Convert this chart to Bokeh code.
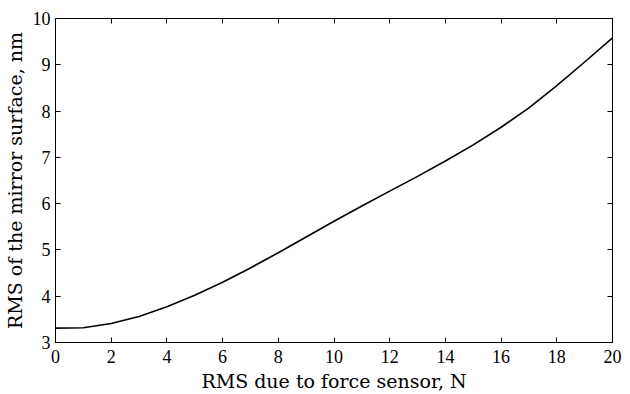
from bokeh.plotting import figure
from bokeh.models import LinearAxis, Range1d, FixedTicker
from bokeh.embed import file_html
from bokeh.resources import INLINE

force_rms = [0, 1, 2, 3, 4, 5, 6, 7, 8, 9, 10, 11, 12, 13, 14, 15, 16, 17, 18, 19, 20]
mirror_rms = [3.31, 3.32, 3.41, 3.56, 3.77, 4.02, 4.30, 4.61, 4.94, 5.28, 5.62,
              5.95, 6.27, 6.59, 6.92, 7.27, 7.65, 8.07, 8.55, 9.06, 9.58]
x_ticks = [0, 2, 4, 6, 8, 10, 12, 14, 16, 18, 20]
y_ticks = [3, 4, 5, 6, 7, 8, 9, 10]

p = figure(width=630, height=394, output_backend="svg", toolbar_location=None,
           x_range=Range1d(0, 20), y_range=Range1d(3, 10),
           min_border_left=55, min_border_right=18, min_border_top=18, min_border_bottom=52)
p.grid.visible = False
p.outline_line_color = "black"
p.outline_line_width = 1
p.background_fill_color = "white"
p.border_fill_color = "white"

p.line(force_rms, mirror_rms, line_color="black", line_width=1.6)

tick_font = "Liberation Sans Narrow"
label_font = "DejaVu Serif"

for ax in p.xaxis + p.yaxis:
    ax.major_tick_in = 5
    ax.major_tick_out = 0
    ax.minor_tick_in = 0
    ax.minor_tick_out = 0
    ax.axis_line_color = "black"
    ax.major_tick_line_color = "black"
    ax.major_label_text_font = tick_font
    ax.major_label_text_font_size = "18px"
    ax.major_label_text_color = "black"
    ax.axis_label_text_font = label_font
    ax.axis_label_text_font_size = "19px"
    ax.axis_label_text_font_style = "normal"
    ax.axis_label_text_color = "black"

p.xaxis.ticker = FixedTicker(ticks=x_ticks)
p.yaxis.ticker = FixedTicker(ticks=y_ticks)
p.xaxis.axis_label = "RMS due to force sensor, N"
p.yaxis.axis_label = "RMS of the mirror surface, nm"
p.xaxis.major_label_standoff = 7
p.yaxis.major_label_standoff = 5
p.xaxis.axis_label_standoff = 4
p.yaxis.axis_label_standoff = 4

blank_x = {t: "" for t in x_ticks}
blank_y = {t: "" for t in y_ticks}
top = LinearAxis(ticker=FixedTicker(ticks=x_ticks), major_label_overrides=blank_x,
                 major_tick_in=5, major_tick_out=0, minor_tick_in=0, minor_tick_out=0,
                 major_label_standoff=0)
right = LinearAxis(ticker=FixedTicker(ticks=y_ticks), major_label_overrides=blank_y,
                   major_tick_in=5, major_tick_out=0, minor_tick_in=0, minor_tick_out=0,
                   major_label_standoff=0)
p.add_layout(top, "above")
p.add_layout(right, "right")

open("out.html", "w").write(file_html(p, INLINE))
